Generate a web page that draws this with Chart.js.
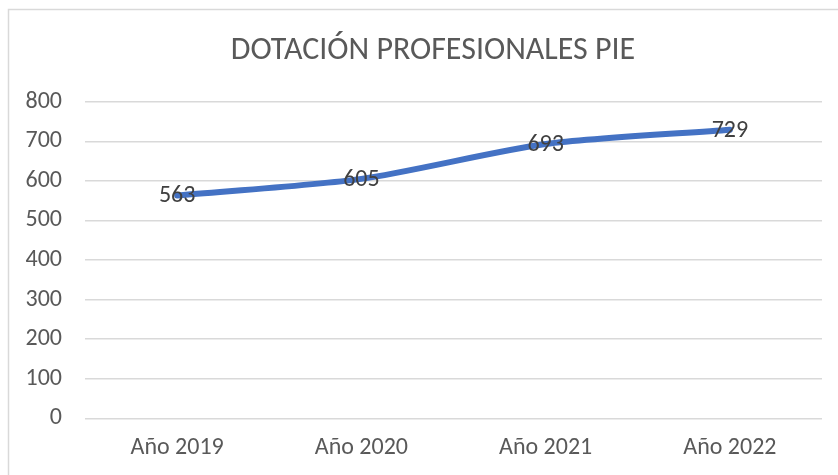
<!DOCTYPE html>
<html>
<head>
<meta charset="utf-8">
<script src="https://cdn.jsdelivr.net/npm/chart.js@4.4.0/dist/chart.umd.min.js"></script>
<style>
html,body{margin:0;padding:0;background:#fff;}
#wrap{width:838px;height:475px;position:relative;}
</style>
</head>
<body>
<div id="wrap"><canvas id="c" width="838" height="475"></canvas></div>
<script>
const categories = ["Año 2019", "Año 2020", "Año 2021", "Año 2022"];
const seriesName = "Dotación profesionales PIE";
const values = [563, 605, 693, 729];
const chartTitle = "DOTACIÓN PROFESIONALES PIE";
const yMin = 0, yMax = 800, yStep = 100;

const FONT = "Carlito, Lato, 'Open Sans', sans-serif";

const frame = {
  id: 'frame',
  beforeDraw(chart) {
    const ctx = chart.ctx;
    ctx.save();
    ctx.fillStyle = '#ffffff';
    ctx.fillRect(0, 0, chart.width, chart.height);
    ctx.strokeStyle = '#d9d9d9';
    ctx.lineWidth = 1.5;
    ctx.strokeRect(8.5, 9.5, 2000, 2000);
    ctx.restore();
  }
};

const headTitle = {
  id: 'headTitle',
  afterDraw(chart, args, opts) {
    const ctx = chart.ctx;
    ctx.save();
    ctx.font = "300 32px " + FONT;
    ctx.fillStyle = '#595959';
    ctx.textAlign = 'center';
    ctx.textBaseline = 'middle';
    ctx.fillText(opts.text, 433, 51);
    ctx.restore();
  }
};

const valueLabels = {
  id: 'valueLabels',
  afterDatasetsDraw(chart) {
    const ctx = chart.ctx;
    const meta = chart.getDatasetMeta(0);
    ctx.save();
    ctx.font = "24px " + FONT;
    ctx.fillStyle = '#404040';
    ctx.textAlign = 'center';
    ctx.textBaseline = 'middle';
    meta.data.forEach((pt, i) => {
      ctx.fillText(String(chart.data.datasets[0].data[i]), pt.x, pt.y + 1);
    });
    ctx.restore();
  }
};

new Chart(document.getElementById('c'), {
  type: 'line',
  data: {
    labels: categories,
    datasets: [{
      label: seriesName,
      data: values,
      borderColor: '#4472C4',
      borderWidth: 6,
      pointRadius: 0,
      pointHoverRadius: 0,
      tension: 0.25,
      fill: false,
      borderCapStyle: 'round',
      borderJoinStyle: 'round'
    }]
  },
  options: {
    responsive: false,
    animation: false,
    devicePixelRatio: 1,
    layout: { padding: { left: 0, right: 16, top: 101.7, bottom: 0 } },
    plugins: {
      legend: { display: false },
      tooltip: { enabled: false },
      title: { display: false },
      headTitle: { text: chartTitle }
    },
    scales: {
      x: {
        offset: true,
        grid: { display: false, drawTicks: false },
        border: { display: false },
        ticks: { color: '#595959', font: { family: FONT, size: 24 }, padding: 15, maxRotation: 0 },
        afterFit(s) { s.height = 475 - 418.3; }
      },
      y: {
        min: yMin, max: yMax,
        grid: { color: '#d9d9d9', lineWidth: 1.5, drawTicks: false },
        border: { display: false },
        ticks: { stepSize: yStep, color: '#595959', font: { family: FONT, size: 24 }, padding: 23 },
        afterFit(s) { s.width = 85; }
      }
    }
  },
  plugins: [frame, valueLabels, headTitle]
});
</script>
</body>
</html>
